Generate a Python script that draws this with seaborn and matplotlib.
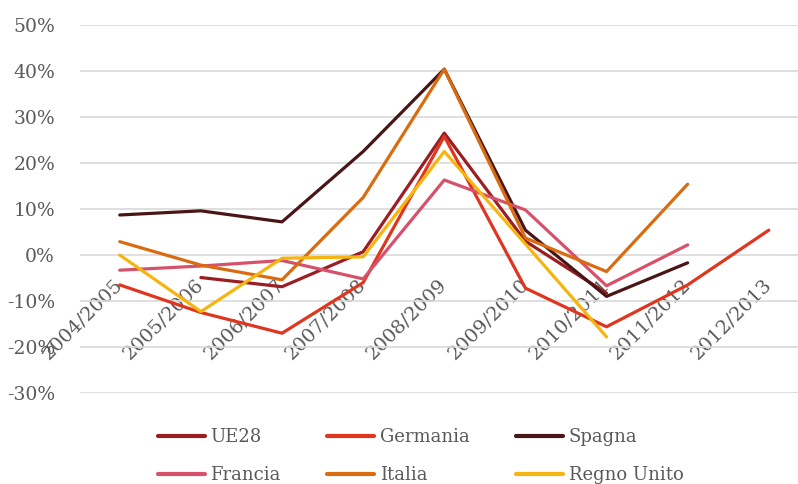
import numpy as np
import pandas as pd
import matplotlib
matplotlib.use("Agg")
import matplotlib.pyplot as plt
import seaborn as sns

# Anni scolastici / periodi
periodi = ["2004/2005", "2005/2006", "2006/2007", "2007/2008", "2008/2009",
           "2009/2010", "2010/2011", "2011/2012", "2012/2013"]

# Variazioni percentuali annue (NaN = dato non disponibile)
ue28        = [np.nan, -4.9, -6.9, 0.7, 26.5, 3.0, -8.3, np.nan, np.nan]
germania    = [-6.5, -12.5, -17.0, -6.0, 25.8, -7.2, -15.6, -6.5, 5.4]
spagna      = [8.7, 9.6, 7.2, 22.5, 40.4, 5.4, -9.0, -1.7, np.nan]
francia     = [-3.3, -2.4, -1.2, -5.2, 16.3, 9.8, -6.7, 2.2, np.nan]
italia      = [2.9, -2.2, -5.4, 12.5, 40.4, 3.7, -3.6, 15.4, np.nan]
regno_unito = [0.0, -12.3, -0.7, -0.4, 22.5, 2.4, -17.8, np.nan, np.nan]

serie = {
    "UE28": ue28,
    "Germania": germania,
    "Spagna": spagna,
    "Francia": francia,
    "Italia": italia,
    "Regno Unito": regno_unito,
}
colori = {
    "UE28": "#9a1e22",
    "Germania": "#e0351f",
    "Spagna": "#4a1517",
    "Francia": "#d6526c",
    "Italia": "#d96c10",
    "Regno Unito": "#f6b50e",
}

y_ticks = [-30, -20, -10, 0, 10, 20, 30, 40, 50]
y_labels = ["-30%", "-20%", "-10%", "0%", "10%", "20%", "30%", "40%", "50%"]

rows = []
for nome, valori in serie.items():
    for i, v in enumerate(valori):
        rows.append({"pos": i, "periodo": periodi[i], "paese": nome, "valore": v})
df = pd.DataFrame(rows).dropna()

sns.set_theme(style="white")
plt.rcParams["font.family"] = ["DejaVu Serif"]

fig = plt.figure(figsize=(7.98, 4.84), dpi=100)
ax = fig.add_axes([80 / 798, (484 - 393) / 484, 1 - 80 / 798, 368 / 484])

sns.lineplot(data=df, x="pos", y="valore", hue="paese", hue_order=list(serie.keys()),
             palette=colori, linewidth=2.3, sort=True, estimator=None, ax=ax,
             legend=True)

# asse delle categorie sulla linea dello zero
for s in ax.spines.values():
    s.set_visible(False)
ax.spines["bottom"].set_position(("data", 0))

ax.set_xlim(-0.49, 8.36)
ax.set_ylim(-30, 50)
ax.set_yticks(y_ticks)
ax.set_yticklabels(y_labels)
ax.set_xticks(range(len(periodi)))
ax.set_xticklabels(periodi, rotation=45, ha="right", va="center",
                   rotation_mode="anchor")
ax.set_xlabel("")
ax.set_ylabel("")

ax.yaxis.grid(True, color="#d9d9d9", linewidth=1.2)
ax.xaxis.grid(False)
ax.set_axisbelow(True)

ax.tick_params(axis="y", length=0, pad=18, labelsize=13.5, labelcolor="#595959")
ax.tick_params(axis="x", length=0, pad=19, labelsize=14, labelcolor="#595959")

handles, labels = ax.get_legend_handles_labels()
ax.get_legend().remove()
ordine = ["UE28", "Francia", "Germania", "Italia", "Spagna", "Regno Unito"]
h_map = dict(zip(labels, handles))
for h in h_map.values():
    h.set_linewidth(3.0)
fig.legend([h_map[k] for k in ordine], ordine, ncol=3, loc="center",
           bbox_to_anchor=(0.527, 0.058), frameon=False, fontsize=13,
           handlelength=2.6, handletextpad=0.3, columnspacing=2.6,
           labelspacing=1.1, labelcolor="#595959")

fig.savefig("out.png", dpi=100)
